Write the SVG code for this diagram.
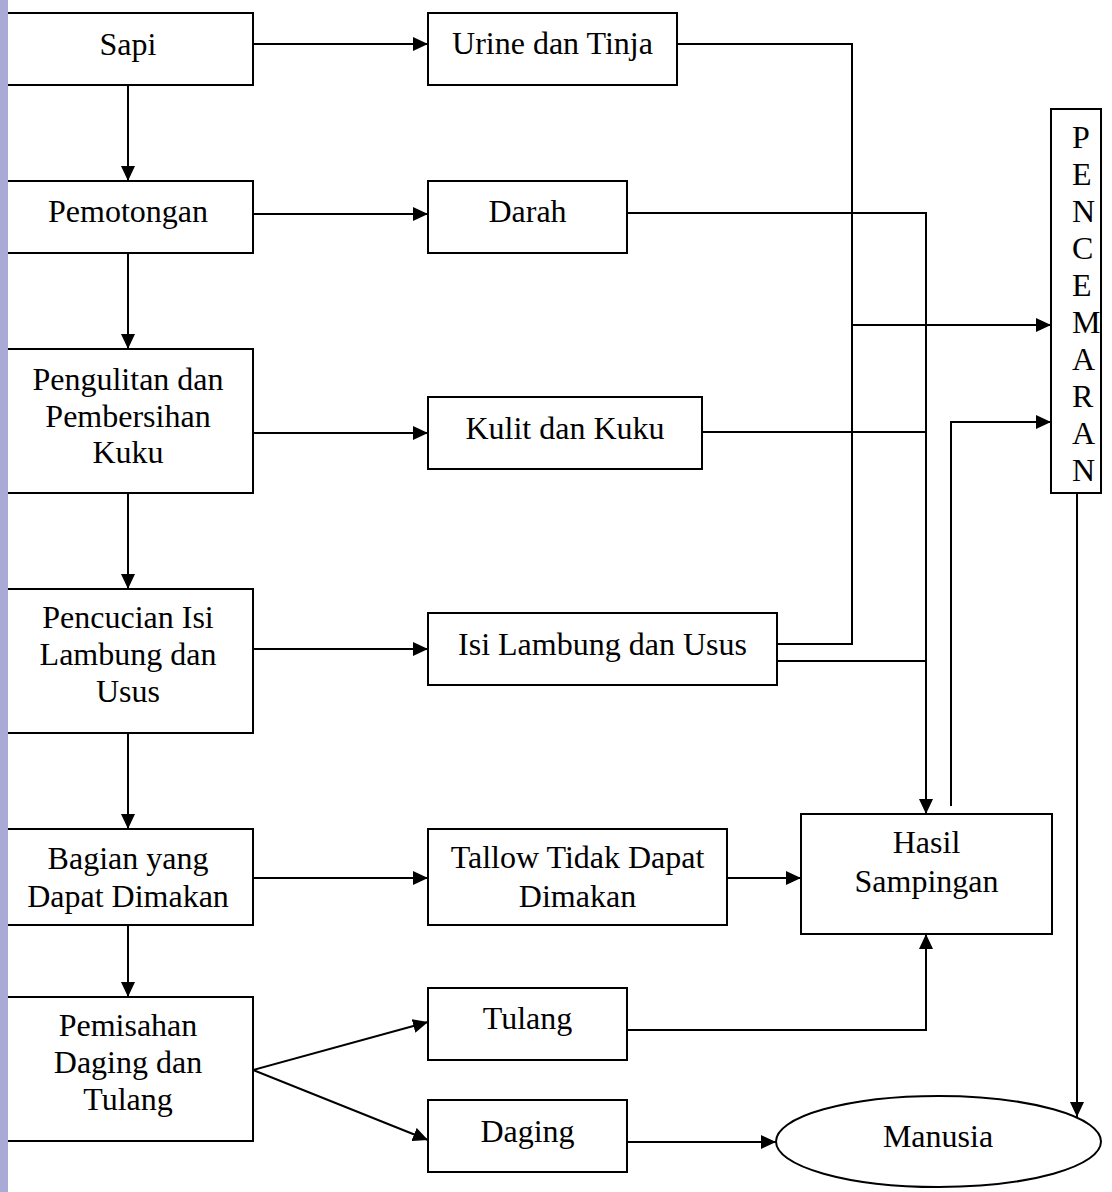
<svg xmlns="http://www.w3.org/2000/svg" width="1112" height="1192" viewBox="0 0 1112 1192">
<style>
.box{fill:#fff;stroke:#000;stroke-width:2}
.t{font-family:"Liberation Serif","Times New Roman",serif;font-size:32px;fill:#000;text-anchor:middle}
.tl{font-family:"Liberation Serif","Times New Roman",serif;font-size:32px;fill:#000}
.c{fill:none;stroke:#000;stroke-width:2}
.a{marker-end:url(#arr)}
</style>
<defs>
<marker id="arr" markerUnits="userSpaceOnUse" viewBox="0 0 15 14" refX="15" refY="7" markerWidth="15" markerHeight="14" orient="auto">
<path d="M0,0 L15,7 L0,14 z" fill="#000"/>
</marker>
</defs>
<rect x="0" y="0" width="1112" height="1192" fill="#fff"/>
<g id="connectors">
<path class="c a" d="M128,85 V181"/>
<path class="c a" d="M128,253 V349"/>
<path class="c a" d="M128,493 V589"/>
<path class="c a" d="M128,733 V829"/>
<path class="c a" d="M128,925 V997"/>
<path class="c a" d="M253,44 H428"/>
<path class="c a" d="M253,214 H428"/>
<path class="c a" d="M253,433 H428"/>
<path class="c a" d="M253,649 H428"/>
<path class="c a" d="M253,878 H428"/>
<path class="c a" d="M253,1070 L428,1022"/>
<path class="c a" d="M253,1070 L428,1140"/>
<path class="c" d="M677,44 H852 V644 H777"/>
<path class="c a" d="M852,325 H1051"/>
<path class="c a" d="M627,213 H926 V814"/>
<path class="c" d="M702,432 H926"/>
<path class="c" d="M777,661 H926"/>
<path class="c a" d="M951,806 V422 H1051"/>
<path class="c a" d="M727,878 H801"/>
<path class="c a" d="M627,1030 H926 V934"/>
<path class="c a" d="M627,1142 H776"/>
<path class="c a" d="M1077,493 V1117"/>
</g>
<g id="sapi"><rect class="box" x="3" y="13" width="250" height="72"/><text class="t" x="128" y="55">Sapi</text></g>
<g id="pemotongan"><rect class="box" x="3" y="181" width="250" height="72"/><text class="t" x="128" y="222">Pemotongan</text></g>
<g id="pengulitan"><rect class="box" x="3" y="349" width="250" height="144"/><text class="t" x="128" y="390">Pengulitan dan</text><text class="t" x="128" y="427">Pembersihan</text><text class="t" x="128" y="463">Kuku</text></g>
<g id="pencucian"><rect class="box" x="3" y="589" width="250" height="144"/><text class="t" x="128" y="628">Pencucian Isi</text><text class="t" x="128" y="665">Lambung dan</text><text class="t" x="128" y="702">Usus</text></g>
<g id="bagian"><rect class="box" x="3" y="829" width="250" height="96"/><text class="t" x="128" y="869">Bagian yang</text><text class="t" x="128" y="907">Dapat Dimakan</text></g>
<g id="pemisahan"><rect class="box" x="3" y="997" width="250" height="144"/><text class="t" x="128" y="1036">Pemisahan</text><text class="t" x="128" y="1073">Daging dan</text><text class="t" x="128" y="1110">Tulang</text></g>
<g id="urine"><rect class="box" x="428" y="13" width="249" height="72"/><text class="t" x="552.5" y="54">Urine dan Tinja</text></g>
<g id="darah"><rect class="box" x="428" y="181" width="199" height="72"/><text class="t" x="527.5" y="222">Darah</text></g>
<g id="kulit"><rect class="box" x="428" y="397" width="274" height="72"/><text class="t" x="565" y="439">Kulit dan Kuku</text></g>
<g id="isi"><rect class="box" x="428" y="613" width="349" height="72"/><text class="t" x="602.5" y="655">Isi Lambung dan Usus</text></g>
<g id="tallow"><rect class="box" x="428" y="829" width="299" height="96"/><text class="t" x="577.5" y="868">Tallow Tidak Dapat</text><text class="t" x="577.5" y="907">Dimakan</text></g>
<g id="tulang"><rect class="box" x="428" y="988" width="199" height="72"/><text class="t" x="527.5" y="1029">Tulang</text></g>
<g id="daging"><rect class="box" x="428" y="1100" width="199" height="72"/><text class="t" x="527.5" y="1142">Daging</text></g>
<g id="hasil"><rect class="box" x="801" y="814" width="251" height="120"/><text class="t" x="926.5" y="853">Hasil</text><text class="t" x="926.5" y="892">Sampingan</text></g>
<g id="pencemaran"><rect class="box" x="1051" y="109" width="50" height="384"/>
<text class="tl" x="1072" y="148">P</text><text class="tl" x="1072" y="185">E</text><text class="tl" x="1072" y="222">N</text><text class="tl" x="1072" y="259">C</text><text class="tl" x="1072" y="296">E</text><text class="tl" x="1072" y="333">M</text><text class="tl" x="1072" y="370">A</text><text class="tl" x="1072" y="407">R</text><text class="tl" x="1072" y="444">A</text><text class="tl" x="1072" y="481">N</text></g>
<g id="manusia"><ellipse class="box" cx="938.5" cy="1141.5" rx="162.5" ry="45.5"/><text class="t" x="938" y="1147">Manusia</text></g>
<rect x="0" y="0" width="8" height="1192" fill="#a9abd6"/>
</svg>
